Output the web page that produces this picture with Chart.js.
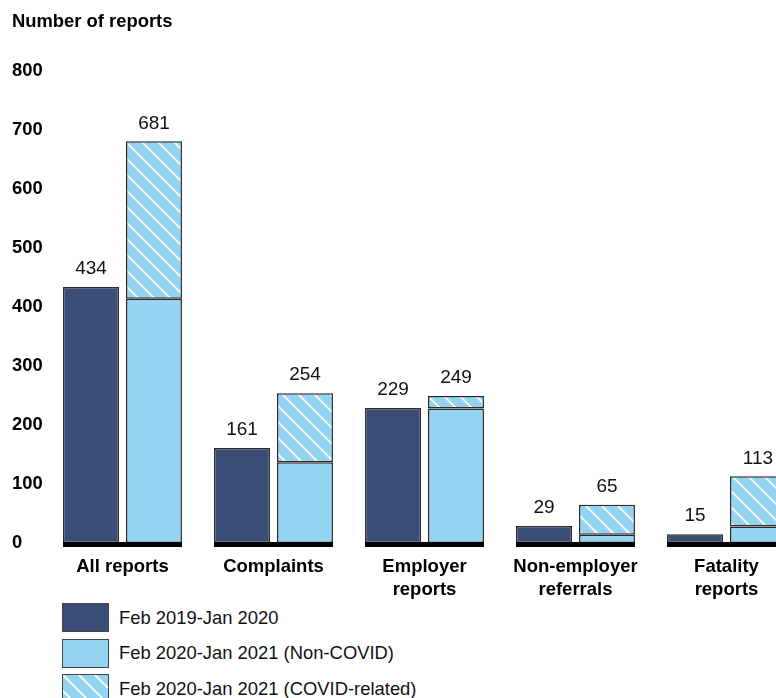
<!DOCTYPE html>
<html>
<head>
<meta charset="utf-8">
<script src="https://cdn.jsdelivr.net/npm/chart.js@4"></script>
<style>
  body { margin: 0; background: #fff; overflow: hidden; font-family: "Liberation Sans", Arial, sans-serif; }
  #wrap { position: relative; width: 802px; height: 600px; }
  #legend { margin: 0 0 0 62px; padding: 0; list-style: none; }
  #legend li { display: flex; align-items: center; height: 35.5px; font-size: 18.4px; color: #111; white-space: nowrap; }
  #legend .sw { width: 47px; height: 29px; border: 1px solid #444; margin-right: 10px; box-sizing: border-box; }
</style>
</head>
<body>
<div id="wrap"><canvas id="chart" width="802" height="600"></canvas></div>
<ul id="legend"></ul>
<script>
const categories = ['All reports', 'Complaints', ['Employer', 'reports'], ['Non-employer', 'referrals'], ['Fatality', 'reports']];
const seriesNames = ['Feb 2019-Jan 2020', 'Feb 2020-Jan 2021 (Non-COVID)', 'Feb 2020-Jan 2021 (COVID-related)'];
const prevYear = [434, 161, 229, 29, 15];
const nonCovid = [414, 137, 228, 14, 28];
const covid = [267, 117, 21, 51, 85];
const yTicks = [0, 100, 200, 300, 400, 500, 600, 700, 800];

const dark = '#3a4d77';
const light = '#93d4f2';
const FONT = '"Liberation Sans", Arial, sans-serif';

// hatched fill for the covid segment
function makeHatch() {
  const c = document.createElement('canvas');
  c.width = 16; c.height = 16;
  const x = c.getContext('2d');
  x.fillStyle = light;
  x.fillRect(0, 0, 16, 16);
  x.strokeStyle = '#fff';
  x.lineWidth = 1.6;
  x.beginPath();
  x.moveTo(-4, -4); x.lineTo(20, 20);
  x.moveTo(-4, 12); x.lineTo(4, 20);
  x.moveTo(12, -4); x.lineTo(20, 4);
  x.stroke();
  return c;
}
const hatchTile = makeHatch();
const hatch = document.createElement('canvas').getContext('2d').createPattern(hatchTile, 'repeat');

const totalsPlugin = {
  id: 'totals',
  afterDatasetsDraw(chart) {
    const ctx = chart.ctx;
    const y = chart.scales.y;
    const m0 = chart.getDatasetMeta(0).data;
    const m2 = chart.getDatasetMeta(2).data;
    ctx.save();
    // thick base line under each group
    ctx.fillStyle = '#000';
    const zero = y.getPixelForValue(0);
    m0.forEach((bar, i) => {
      const left = bar.x - bar.width / 2;
      const right = m2[i].x + m2[i].width / 2;
      ctx.fillRect(left, zero - 1, right - left, 5);
    });
    // totals above the bars
    ctx.font = '19px ' + FONT;
    ctx.fillStyle = '#111';
    ctx.textAlign = 'center';
    ctx.textBaseline = 'middle';
    m0.forEach((bar, i) => {
      ctx.fillText(prevYear[i], bar.x, y.getPixelForValue(prevYear[i]) - 18);
      const tot = nonCovid[i] + covid[i];
      ctx.fillText(tot, m2[i].x, y.getPixelForValue(tot) - 18);
    });
    ctx.restore();
  }
};

const chart = new Chart(document.getElementById('chart'), {
  type: 'bar',
  data: {
    labels: categories,
    datasets: [
      { label: seriesNames[0], data: prevYear, backgroundColor: dark, stack: 'a' },
      { label: seriesNames[1], data: nonCovid, backgroundColor: light, stack: 'b' },
      { label: seriesNames[2], data: covid, backgroundColor: hatch, stack: 'b' }
    ]
  },
  options: {
    responsive: false,
    animation: false,
    layout: { padding: { left: 12, right: 0, top: 0, bottom: 0 } },
    datasets: {
      bar: {
        borderColor: '#2a2a2a',
        borderWidth: 1.5,
        borderSkipped: false,
        categoryPercentage: 0.834,
        barPercentage: 0.889
      }
    },
    plugins: {
      legend: { display: false },
      tooltip: { enabled: false },
      title: {
        display: true,
        text: 'Number of reports',
        align: 'start',
        color: '#000',
        font: { family: FONT, size: 18.4, weight: 'bold', lineHeight: 1.2 },
        padding: { top: 11, bottom: 38 }
      }
    },
    scales: {
      x: {
        stacked: true,
        grid: { display: false },
        border: { display: false },
        afterFit(scale) { scale.height = 57; },
        ticks: {
          color: '#000',
          padding: 4,
          maxRotation: 0,
          font: { family: FONT, size: 18.5, weight: 'bold', lineHeight: 1.24 }
        }
      },
      y: {
        stacked: true,
        min: 0,
        max: 800,
        grid: { display: false },
        border: { display: false },
        afterBuildTicks(scale) { scale.ticks = yTicks.map(v => ({ value: v })); },
        afterFit(scale) { scale.width = 35; },
        ticks: {
          color: '#000',
          crossAlign: 'far',
          padding: 2,
          font: { family: FONT, size: 18.4, weight: 'bold' }
        }
      }
    }
  },
  plugins: [totalsPlugin]
});

// html legend built from the datasets
const legend = document.getElementById('legend');
const hatchUrl = hatchTile.toDataURL();
chart.data.datasets.forEach((ds, i) => {
  const li = document.createElement('li');
  const sw = document.createElement('span');
  sw.className = 'sw';
  if (i === 2) sw.style.backgroundImage = 'url(' + hatchUrl + ')';
  else sw.style.background = ds.backgroundColor;
  const t = document.createElement('span');
  t.textContent = ds.label;
  li.appendChild(sw);
  li.appendChild(t);
  legend.appendChild(li);
});
</script>
</body>
</html>
